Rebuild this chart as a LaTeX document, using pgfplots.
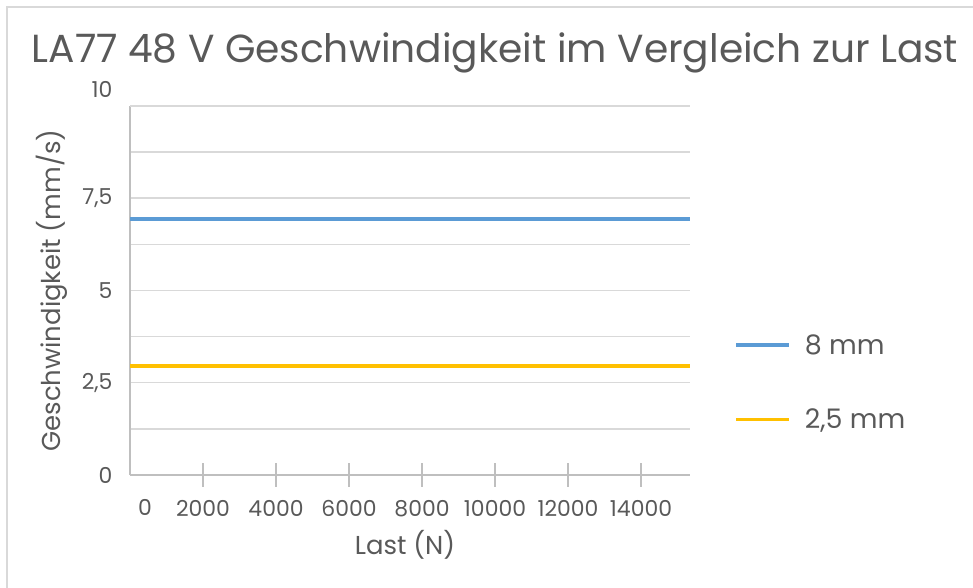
\documentclass[border=0pt]{standalone}
\usepackage{pgfplots}
\pgfplotsset{compat=1.18}
\usepackage{fontspec}
\setmainfont{Poppins}
\definecolor{txt}{HTML}{595959}
\definecolor{gridc}{HTML}{D9D9D9}
\definecolor{axc}{HTML}{BFBFBF}
\definecolor{sblue}{HTML}{5B9BD5}
\definecolor{sorange}{HTML}{FFC000}
\begin{document}
\begin{tikzpicture}[x=1bp,y=1bp]
\path[use as bounding box] (0,0) rectangle (973,588);
\draw[color=gridc, line width=1.5bp] (7,0) -- (7,581) -- (973,581);
\node[anchor=base, font=\fontsize{39.3}{44}\selectfont, text=txt, inner sep=0pt] at (495,525) {LA77 48 V Geschwindigkeit im Vergleich zur Last};
\begin{axis}[
  at={(130bp,113bp)}, anchor=south west,
  scale only axis, width=560bp, height=369bp,
  xmin=0, xmax=15342, ymin=0, ymax=10,
  scaled x ticks=false, scaled y ticks=false,
  axis lines*=left,
  axis line style={color=axc, line width=1.8bp},
  every tick label/.append style={font=\fontsize{22}{25}\selectfont, text=txt},
  /pgf/number format/assume math mode=true,
  xtick={2000,4000,6000,8000,10000,12000,14000},
  xticklabels={2000,4000,6000,8000,10000,12000,14000},
  xticklabel style={yshift=-10bp},
  extra x ticks={0}, extra x tick labels={0},
  extra x tick style={major tick length=0pt, xticklabel style={xshift=15bp, yshift=-11bp}},
  ytick={0,2.5,5,7.5}, yticklabels={0,{2,5},5,{7,5}},
  minor ytick={1.25,3.75,6.25,8.75},
  extra y ticks={10}, extra y tick labels={10},
  extra y tick style={grid=major, yticklabel style={yshift=17bp}},
  ymajorgrids, yminorgrids,
  major grid style={color=gridc, line width=1.5bp},
  minor grid style={color=gridc, line width=1.5bp},
  ytick style={draw=none}, minor y tick style={draw=none},
  xtick style={color=axc, line width=1.8bp},
  tick align=center, major tick length=24bp,
  yticklabel style={xshift=-2bp},
  xlabel={Last (N)}, ylabel={Geschwindigkeit (mm/s)},
  every axis x label/.style={at={(axis description cs:0.491,-0.19)}, anchor=center, font=\fontsize{26}{30}\selectfont, text=txt},
  every axis y label/.style={at={(axis description cs:-0.139,0.5)}, anchor=center, rotate=90, font=\fontsize{26}{30}\selectfont, text=txt},
  legend style={at={(1.079,0.251)}, anchor=west, draw=none, fill=none,
    font=\fontsize{27}{30}\selectfont, text=txt, row sep=49bp, inner sep=0pt,
    /tikz/every odd column/.append style={column sep=12bp}},
  legend cell align=left,
  legend image code/.code={\draw[#1] (0bp,0bp) -- (53bp,0bp);},
  clip=false,
]
\addplot[color=sblue, line width=3.5bp] coordinates {(0,6.94) (2000,6.94) (4000,6.94) (6000,6.94) (8000,6.94) (10000,6.94) (12000,6.94) (14000,6.94) (15342,6.94)};
\addlegendentry{8 mm}
\addplot[color=sorange, line width=3.5bp] coordinates {(0,2.95) (2000,2.95) (4000,2.95) (6000,2.95) (8000,2.95) (10000,2.95) (12000,2.95) (14000,2.95) (15342,2.95)};
\addlegendentry{2,5 mm}
\end{axis}
\end{tikzpicture}
\end{document}
